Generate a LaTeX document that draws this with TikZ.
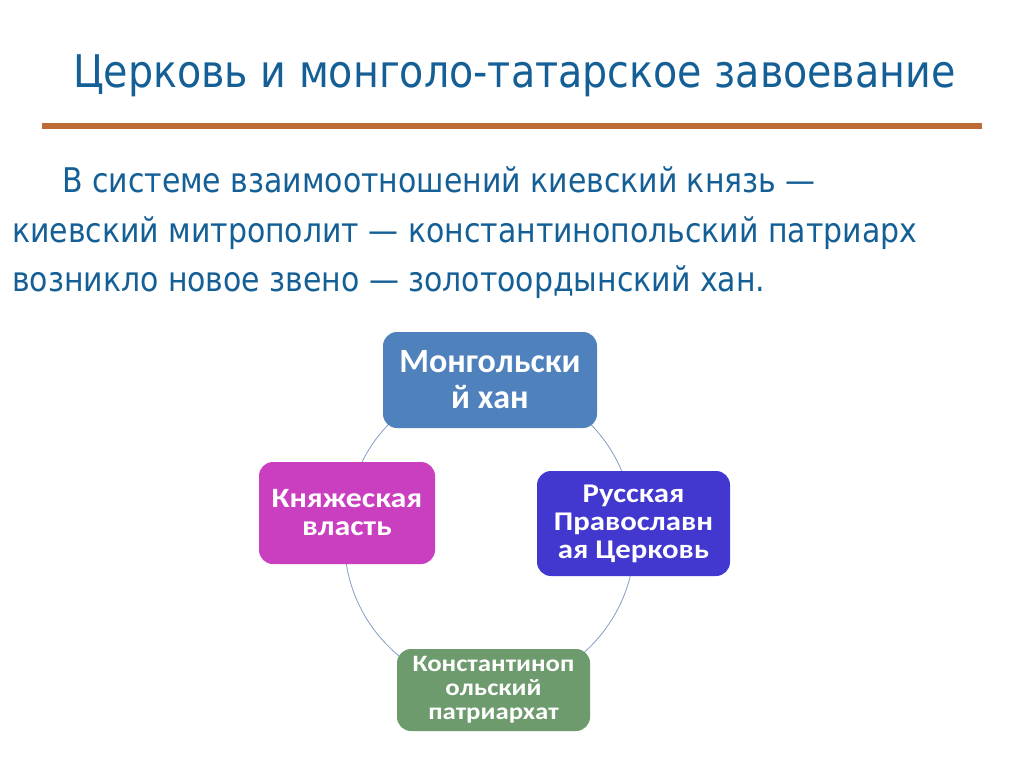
\documentclass[tikz,border=0pt]{standalone}
\usepackage{fontspec}
\setmainfont[FakeStretch=0.88]{DejaVu Sans}
\newfontfamily\boxfont{Carlito}
\newfontfamily\boxwide[FakeStretch=1.14]{Carlito}
\usetikzlibrary{positioning,backgrounds}
\definecolor{titleblue}{RGB}{20,95,150}
\definecolor{ruleorange}{RGB}{188,108,52}
\definecolor{ringblue}{RGB}{130,158,198}
\definecolor{khanblue}{RGB}{79,129,189}
\definecolor{princepink}{RGB}{202,62,192}
\definecolor{churchviolet}{RGB}{66,56,208}
\definecolor{patrgreen}{RGB}{110,155,110}
\tikzset{
  stage/.style={rounded corners=14pt,text=white,align=center,inner sep=2pt},
  bodyline/.style={anchor=base west,inner sep=0pt,text=titleblue,font=\fontsize{34}{40}\selectfont},
  ring/.style={draw=ringblue,line width=0.8pt}
}
\begin{document}
\begin{tikzpicture}[x=1pt,y=-1pt]
  \useasboundingbox (0,0) rectangle (1024,767);
  % heading
  \node[anchor=base west,inner sep=0pt,text=titleblue,font=\fontsize{45}{50}\selectfont] (title) at (73,88) {Церковь и монголо-татарское завоевание};
  \draw[ruleorange,line width=6pt] (42,126) -- (982,126);
  % text
  \node[bodyline] (line1) at (62,193) {В системе взаимоотношений киевский князь —};
  \node[bodyline] (line2) at (12,242) {киевский митрополит — константинопольский патриарх};
  \node[bodyline] (line3) at (12,291) {возникло новое звено — золотоордынский хан.};
  % cycle
  \node[stage,fill=khanblue,minimum width=214pt,minimum height=96pt,font=\boxfont\bfseries\fontsize{34}{36}\selectfont] (khan) at (490,380) {Монгольски\\й хан};
  \node[stage,fill=churchviolet,minimum width=193pt,minimum height=105pt,font=\boxwide\bfseries\fontsize{27}{28}\selectfont] (church) at (633.5,523.5) {Русская\\Православн\\ая Церковь};
  \node[stage,fill=patrgreen,minimum width=193pt,minimum height=82pt,font=\boxwide\bfseries\fontsize{23.5}{24}\selectfont] (patr) at (493.5,690) {Константиноп\\ольский\\патриархат};
  \node[stage,fill=princepink,minimum width=176pt,minimum height=102pt,font=\boxwide\bfseries\fontsize{28}{28}\selectfont] (prince) at (347,513) {Княжеская\\власть};
  \begin{scope}[on background layer]
    \fill[white] (0,0) rectangle (1024,767);
    \draw[ring] (khan.center) to[bend left=42] (church.center);
    \draw[ring] (church.center) to[bend left=47] (patr.center);
    \draw[ring] (patr.center) to[bend left=50,looseness=1.04] (prince.center);
    \draw[ring] (prince.center) to[bend left=40] (khan.center);
  \end{scope}
\end{tikzpicture}
\end{document}
